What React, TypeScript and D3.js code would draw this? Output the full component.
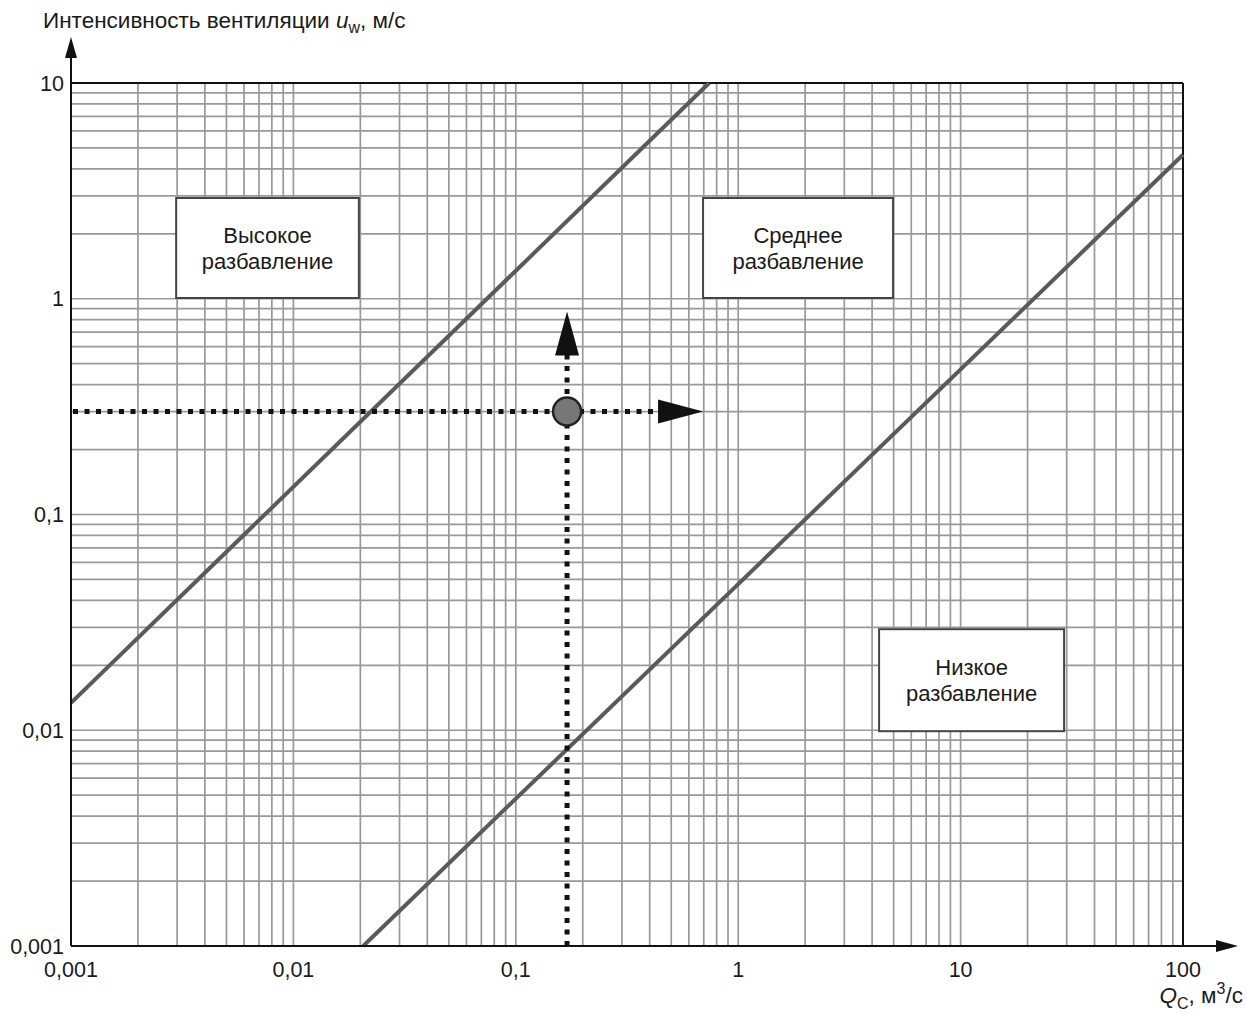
import React from 'react';
import * as d3 from 'd3';

// decade ticks on both axes
const xTicks = [0.001, 0.01, 0.1, 1, 10, 100];
const xTickLabels = ['0,001', '0,01', '0,1', '1', '10', '100'];
const yTicks = [0.001, 0.01, 0.1, 1, 10];
const yTickLabels = ['0,001', '0,01', '0,1', '1', '10'];

// boundary between high and medium dilution
const highBoundQ = [0.001, 0.74];
const highBoundU = [0.0134, 10];
// boundary between medium and low dilution
const lowBoundQ = [0.0206, 100];
const lowBoundU = [0.001, 4.65];

// worked example point
const exampleQ = 0.17;
const exampleU = 0.3;

const zoneLabels = [
    ['Высокое', 'разбавление'],
    ['Среднее', 'разбавление'],
    ['Низкое', 'разбавление'],
];
// box corners in chart units (Q left/right, u top/bottom)
const zoneQ = [[0.00297, 0.0197], [0.695, 4.97], [4.3, 29.2]];
const zoneU = [[2.93, 1.008], [2.93, 1.008], [0.0294, 0.0099]];

const W = 1246;
const H = 1014;
const FONT = '"Liberation Sans", Arial, sans-serif';

export default function App() {
    const left = 71, right = 1183, top = 83, bottom = 946;
    const x = d3.scaleLog().domain([0.001, 100]).range([left, right]);
    const y = d3.scaleLog().domain([0.001, 10]).range([bottom, top]);

    // minor + major grid values: 1..9 per decade
    const gridX: number[] = [];
    xTicks.slice(0, -1).forEach(d => d3.range(1, 10).forEach(k => gridX.push(d * k)));
    gridX.push(100);
    const gridY: number[] = [];
    yTicks.slice(0, -1).forEach(d => d3.range(1, 10).forEach(k => gridY.push(d * k)));
    gridY.push(10);

    const line = d3.line<[number, number]>().x(d => x(d[0])).y(d => y(d[1]));
    const highLine = line(highBoundQ.map((q, i) => [q, highBoundU[i]] as [number, number]));
    const lowLine = line(lowBoundQ.map((q, i) => [q, lowBoundU[i]] as [number, number]));

    const px = x(exampleQ);
    const py = y(exampleU);
    const hTip = px + 136;
    const vTip = py - 100;

    return (
        <svg width={W} height={H} style={{ position: 'absolute', left: 0, top: 0, background: '#fff' }}
            fontFamily={FONT}>
            {/* grid */}
            <g stroke="#999" strokeWidth={1.7}>
                {gridX.map((v, i) => <line key={'gx' + i} x1={x(v)} x2={x(v)} y1={top} y2={bottom} />)}
                {gridY.map((v, i) => <line key={'gy' + i} x1={left} x2={right} y1={y(v)} y2={y(v)} />)}
            </g>
            {/* frame */}
            <line x1={left} x2={right} y1={top} y2={top} stroke="#111" strokeWidth={2} />
            <line x1={right} x2={right} y1={top} y2={bottom} stroke="#111" strokeWidth={2} />

            {/* boundary lines */}
            <path d={highLine ?? ''} fill="none" stroke="#5a5a5a" strokeWidth={4} />
            <path d={lowLine ?? ''} fill="none" stroke="#5a5a5a" strokeWidth={4} />

            {/* zone boxes */}
            {zoneLabels.map((lbl, i) => {
                const x0 = x(zoneQ[i][0]), x1 = x(zoneQ[i][1]);
                const y0 = y(zoneU[i][0]), y1 = y(zoneU[i][1]);
                const cx = (x0 + x1) / 2, cy = (y0 + y1) / 2;
                return (
                    <g key={'z' + i}>
                        <rect x={x0} y={y0} width={x1 - x0} height={y1 - y0} fill="#fff" stroke="#444" strokeWidth={2} />
                        <text x={cx} y={cy - 5} textAnchor="middle" fontSize={22} fill="#1a1a1a">{lbl[0]}</text>
                        <text x={cx} y={cy + 21} textAnchor="middle" fontSize={22} fill="#1a1a1a">{lbl[1]}</text>
                    </g>
                );
            })}

            {/* example: dotted guides */}
            <g stroke="#111" strokeWidth={5} strokeDasharray="5 6.5" fill="none">
                <line x1={left + 2} x2={hTip - 42} y1={py} y2={py} />
                <line x1={px} x2={px} y1={bottom} y2={vTip + 42} />
            </g>
            <path d={`M${hTip},${py} L${hTip - 45},${py - 12} L${hTip - 45},${py + 12} Z`} fill="#111" />
            <path d={`M${px},${vTip} L${px - 12},${vTip + 44} L${px + 12},${vTip + 44} Z`} fill="#111" />
            <circle cx={px} cy={py} r={14} fill="#777" stroke="#222" strokeWidth={2.5} />

            {/* axes */}
            <line x1={left} x2={left} y1={bottom} y2={52} stroke="#111" strokeWidth={2} />
            <path d={`M${left},37 L${left - 6},58 L${left + 6},58 Z`} fill="#111" />
            <line x1={left} x2={1222} y1={bottom} y2={bottom} stroke="#111" strokeWidth={2} />
            <path d={`M1238,${bottom} L1216,${bottom - 6} L1216,${bottom + 6} Z`} fill="#111" />

            {/* tick labels */}
            {yTicks.map((v, i) => (
                <text key={'yt' + i} x={64} y={y(v)} dy="0.36em" textAnchor="end" fontSize={21.5} fill="#1a1a1a">
                    {yTickLabels[i]}
                </text>
            ))}
            {xTicks.map((v, i) => (
                <text key={'xt' + i} x={x(v)} y={977} textAnchor="middle" fontSize={21.5} fill="#1a1a1a">
                    {xTickLabels[i]}
                </text>
            ))}

            {/* axis titles */}
            <text x={43} y={28} fontSize={22.5} fill="#1a1a1a">
                Интенсивность вентиляции <tspan fontStyle="italic">u</tspan>
                <tspan fontSize={16} dy={5}>w</tspan>
                <tspan dy={-5}>, м/с</tspan>
            </text>
            <text x={1243} y={1003} textAnchor="end" fontSize={22.5} fill="#1a1a1a">
                <tspan fontStyle="italic">Q</tspan>
                <tspan fontSize={16} dy={6}>C</tspan>
                <tspan dy={-6}>, м</tspan>
                <tspan fontSize={16} dy={-9}>3</tspan>
                <tspan dy={9}>/с</tspan>
            </text>
        </svg>
    );
}
